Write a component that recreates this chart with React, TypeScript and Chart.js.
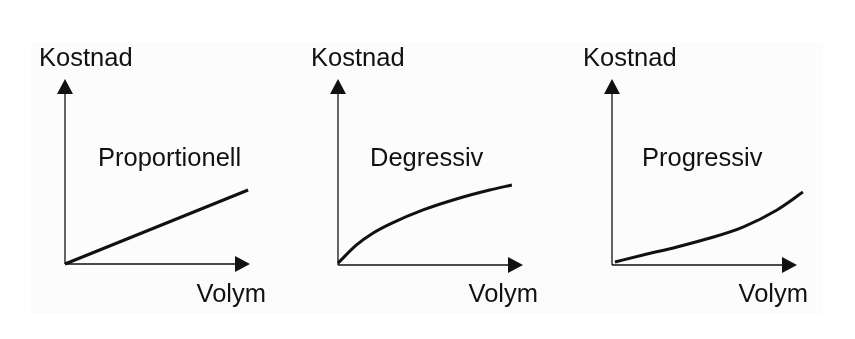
import React, { useEffect, useRef } from "react";
import { Chart, registerables } from "chart.js";

Chart.register(...registerables);

const W = 855;
const H = 339;

// Text
const panelTitles = ["Proportionell", "Degressiv", "Progressiv"];
const yAxisLabel = "Kostnad";
const xAxisLabel = "Volym";

// Data (Volym 0..100 along x-arrow, Kostnad 0..100 along y-arrow)
const volymProportionell = [0, 99];
const kostnadProportionell = [0, 40];

const volymDegressiv = [0, 10, 19, 28, 46, 64, 82, 94];
const kostnadDegressiv = [1, 10.8, 17.2, 22, 29.6, 35.5, 40.3, 43];

const volymProgressiv = [1.6, 16.8, 35.1, 53, 70.8, 89.2, 103.2];
const kostnadProgressiv = [1.6, 5.4, 9.7, 14.5, 20.4, 29.6, 39.2];

const panelSeries = [
  [volymProportionell, kostnadProportionell],
  [volymDegressiv, kostnadDegressiv],
  [volymProgressiv, kostnadProgressiv],
];

// Layout in pixels: origin (ox, oy), arrow tips (tx, ty), text anchors
const panelLayout = [
  { ox: 65, oy: 264, tx: 250, ty: 79, kostnadX: 39, titleX: 98, volymRight: 266 },
  { ox: 338, oy: 265, tx: 523, ty: 79, kostnadX: 311, titleX: 370, volymRight: 538 },
  { ox: 612, oy: 265, tx: 797, ty: 79, kostnadX: 583, titleX: 642, volymRight: 808 },
];

const FONT = '25.5px "Liberation Sans", Arial, Helvetica, sans-serif';
const INK = "#111111";

function makePlugin(idx: number) {
  const lay = panelLayout[idx];
  return {
    id: "arrowAxes" + idx,
    beforeDatasetsDraw(chart: any) {
      const { ctx, chartArea } = chart;
      const { left, right, top, bottom } = chartArea;
      const aLen = 15;
      const aHalf = 8;
      ctx.save();
      ctx.strokeStyle = INK;
      ctx.fillStyle = INK;
      ctx.lineWidth = 1.3;
      // y axis
      ctx.beginPath();
      ctx.moveTo(left, bottom);
      ctx.lineTo(left, top + aLen);
      ctx.stroke();
      ctx.beginPath();
      ctx.moveTo(left, top);
      ctx.lineTo(left - aHalf, top + aLen);
      ctx.lineTo(left + aHalf, top + aLen);
      ctx.closePath();
      ctx.fill();
      // x axis
      ctx.beginPath();
      ctx.moveTo(left, bottom);
      ctx.lineTo(right - aLen, bottom);
      ctx.stroke();
      ctx.beginPath();
      ctx.moveTo(right, bottom);
      ctx.lineTo(right - aLen, bottom - aHalf);
      ctx.lineTo(right - aLen, bottom + aHalf);
      ctx.closePath();
      ctx.fill();
      ctx.restore();
    },
    afterDraw(chart: any) {
      const { ctx } = chart;
      ctx.save();
      ctx.fillStyle = INK;
      ctx.font = FONT;
      ctx.textBaseline = "alphabetic";
      ctx.textAlign = "left";
      ctx.fillText(yAxisLabel, lay.kostnadX, 66);
      ctx.fillText(panelTitles[idx], lay.titleX, 166);
      ctx.textAlign = "right";
      ctx.fillText(xAxisLabel, lay.volymRight, 302);
      ctx.restore();
    },
  };
}

function Panel({ idx }: { idx: number }) {
  const ref = useRef<HTMLCanvasElement | null>(null);
  useEffect(() => {
    const canvas = ref.current;
    if (!canvas) return;
    const lay = panelLayout[idx];
    const [xs, ys] = panelSeries[idx];
    const data = xs.map((x, i) => ({ x, y: ys[i] }));
    const chart = new Chart(canvas, {
      type: "scatter",
      data: {
        datasets: [
          {
            data,
            showLine: true,
            borderColor: INK,
            borderWidth: 3,
            pointRadius: 0,
            tension: 0.4,
            cubicInterpolationMode: "monotone",
            clip: false,
          } as any,
        ],
      },
      options: {
        responsive: false,
        animation: false,
        devicePixelRatio: 1,
        layout: {
          padding: {
            left: lay.ox,
            top: lay.ty,
            right: W - lay.tx,
            bottom: H - lay.oy,
          },
        },
        scales: {
          x: { type: "linear", min: 0, max: 100, display: false },
          y: { type: "linear", min: 0, max: 100, display: false },
        },
        plugins: {
          legend: { display: false },
          tooltip: { enabled: false },
          title: { display: false },
        },
        events: [],
      },
      plugins: [makePlugin(idx)],
    });
    return () => chart.destroy();
  }, [idx]);
  return (
    <canvas
      ref={ref}
      width={W}
      height={H}
      style={{ position: "absolute", left: 0, top: 0, width: W, height: H }}
    />
  );
}

export default function App() {
  return (
    <div
      style={{
        position: "absolute",
        left: 0,
        top: 0,
        width: W,
        height: H,
        background: "#ffffff",
        overflow: "hidden",
      }}
    >
      <div
        style={{
          position: "absolute",
          left: 31,
          top: 42,
          width: 792,
          height: 272,
          background: "#fcfcfc",
        }}
      />
      <Panel idx={0} />
      <Panel idx={1} />
      <Panel idx={2} />
    </div>
  );
}
